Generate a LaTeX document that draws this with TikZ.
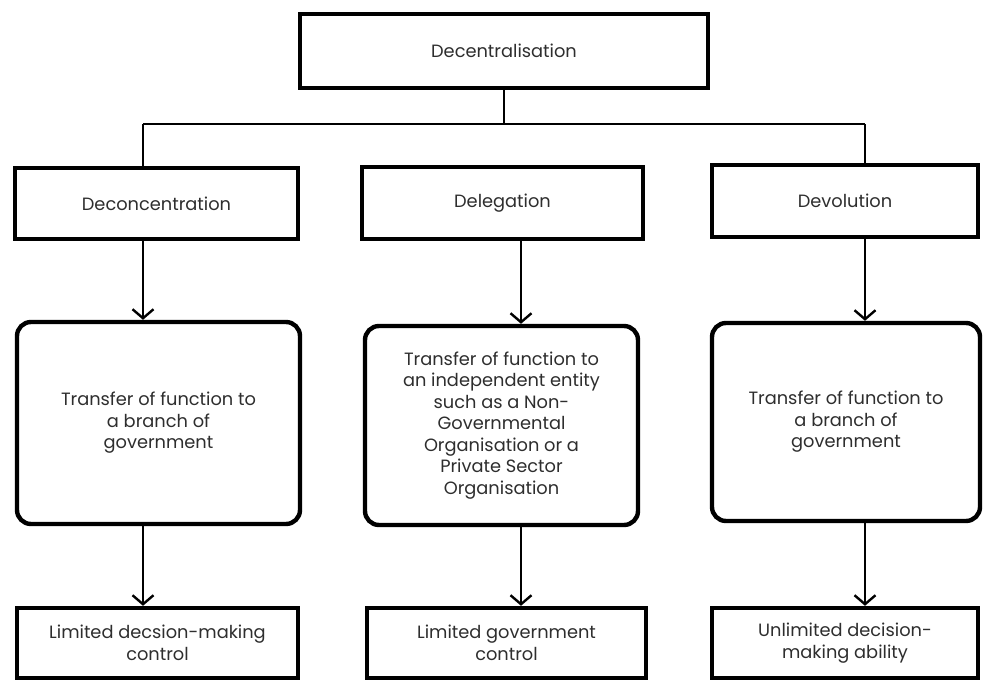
\documentclass[tikz,border=0pt]{standalone}
\usepackage{fontspec}
\setmainfont{Poppins}
\usetikzlibrary{arrows.meta}
\definecolor{ink}{HTML}{2E2E2E}
\begin{document}
\begin{tikzpicture}[x=1pt,y=-1pt,
  box/.style={draw=black,line width=4.4pt,fill=white,inner sep=2pt,
    align=center,text=ink,font=\fontsize{17.8}{21.5}\selectfont},
  roundbox/.style={box,rounded corners=14pt},
  link/.style={line width=2.4pt,draw=black},
  arrowlink/.style={link,-{Straight Barb[length=9pt,width=21pt,line width=2.4pt]}}]
\useasboundingbox (0,0) rectangle (984,682);

% top level
\node[box,minimum width=408pt,minimum height=74pt] (top) at (504,51) {Decentralisation};

% forms of decentralisation
\node[box,minimum width=283pt,minimum height=71pt] (deconc) at (156.5,203.5) {Deconcentration};
\node[box,minimum width=281pt,minimum height=72pt] (deleg) at (502.5,203) {Delegation};
\node[box,minimum width=266pt,minimum height=72pt] (devol) at (845,201) {Devolution};

% what is transferred
\node[roundbox,minimum width=283pt,minimum height=202pt] (rl) at (158.5,423)
  {Transfer of function to\\a branch of\\government};
\node[roundbox,minimum width=273pt,minimum height=199pt] (rm) at (501.5,425.5)
  {Transfer of function to\\an independent entity\\such as a Non-\\Governmental\\Organisation or a\\Private Sector\\Organisation};
\node[roundbox,minimum width=268pt,minimum height=198pt] (rr) at (846,422)
  {Transfer of function to\\a branch of\\government};

% resulting control
\node[box,minimum width=281pt,minimum height=70pt,inner xsep=0pt] (bl) at (157.5,643)
  {Limited decsion-making\\control};
\node[box,minimum width=279pt,minimum height=70pt] (bm) at (506.5,643)
  {Limited government\\control};
\node[box,minimum width=266pt,minimum height=70pt] (br) at (845,643)
  {Unlimited decision-\\making ability};

% branch positions
\coordinate (bar) at (0,124);
\coordinate (s1) at (143,0);
\coordinate (s2) at (521,0);
\coordinate (s3) at (865,0);

% tree from the top box
\draw[link] (top.south) -- (top.south |- bar);
\draw[link] (s1 |- bar) -- (s3 |- bar);
\draw[link] (s1 |- bar) -- (deconc.north -| s1);
\draw[link] (s3 |- bar) -- (devol.north -| s3);

% arrows down each column
\draw[arrowlink] (deconc.south -| s1) -- (rl.north -| s1);
\draw[arrowlink] (deleg.south -| s2) -- (rm.north -| s2);
\draw[arrowlink] (devol.south -| s3) -- (rr.north -| s3);
\draw[arrowlink] (rl.south -| s1) -- (bl.north -| s1);
\draw[arrowlink] (rm.south -| s2) -- (bm.north -| s2);
\draw[arrowlink] (rr.south -| s3) -- (br.north -| s3);
\end{tikzpicture}
\end{document}
